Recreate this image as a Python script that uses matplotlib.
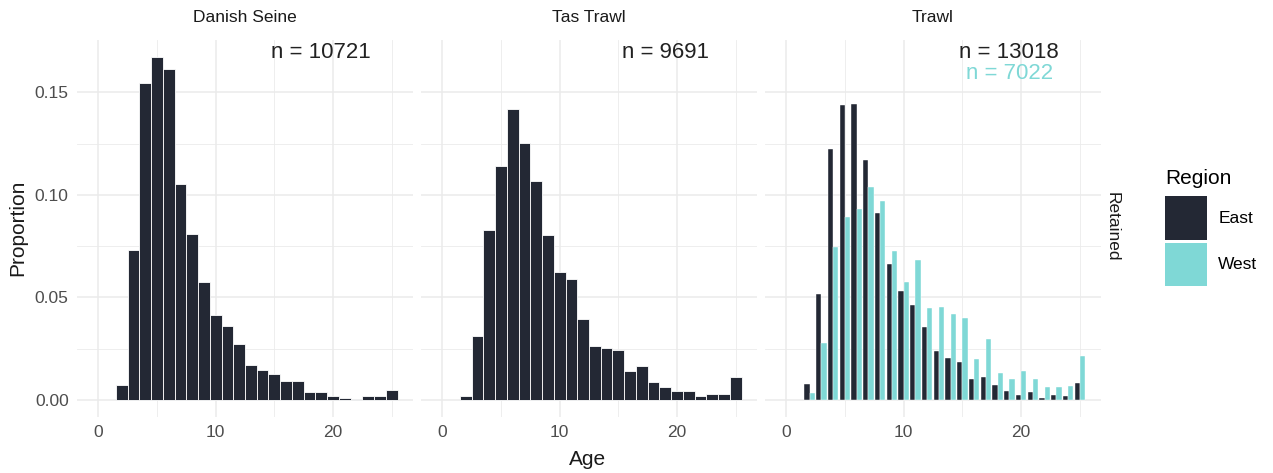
import matplotlib
matplotlib.use("Agg")
import matplotlib.pyplot as plt
from matplotlib.patches import Patch

plt.rcParams['font.family'] = ['Liberation Sans', 'DejaVu Sans']

AGES = list(range(2, 26))

# proportion of retained fish at each age, by gear
DANISH_SEINE = [0.0073, 0.0733, 0.1544, 0.1670, 0.1615, 0.1051, 0.0808, 0.0573,
                0.0415, 0.0362, 0.0274, 0.0172, 0.0146, 0.0126, 0.0094, 0.0094,
                0.0037, 0.0037, 0.0019, 0.0011, 0.0006, 0.0018, 0.0018, 0.0047]
TAS_TRAWL = [0.0019, 0.0311, 0.0830, 0.1138, 0.1417, 0.1254, 0.1069, 0.0806,
             0.0624, 0.0590, 0.0394, 0.0261, 0.0253, 0.0243, 0.0141, 0.0164,
             0.0088, 0.0063, 0.0045, 0.0045, 0.0019, 0.0026, 0.0026, 0.0110]
TRAWL_EAST = [0.0078, 0.0514, 0.1221, 0.1440, 0.1443, 0.1171, 0.0910, 0.0660,
              0.0530, 0.0464, 0.0357, 0.0237, 0.0203, 0.0182, 0.0099, 0.0109,
              0.0071, 0.0041, 0.0024, 0.0037, 0.0008, 0.0021, 0.0019, 0.0084]
TRAWL_WEST = [0.0032, 0.0277, 0.0744, 0.0892, 0.0933, 0.1040, 0.0968, 0.0727,
              0.0574, 0.0680, 0.0446, 0.0451, 0.0418, 0.0401, 0.0199, 0.0298,
              0.0133, 0.0101, 0.0141, 0.0101, 0.0060, 0.0060, 0.0066, 0.0212]

GEARS = ['Danish Seine', 'Tas Trawl', 'Trawl']
N_EAST = [10721, 9691, 13018]
N_WEST = 7022
REGIONS = ['East', 'West']

EAST_COL = '#232834'
WEST_COL = '#7fd8d6'
GRID_COL = '#ebebeb'
TEXT_COL = '#4d4d4d'

W, H = 1273, 473
fig = plt.figure(figsize=(W / 100, H / 100), dpi=100)

panel_left = [77, 421, 765]
panel_w = 336
bottom = 1 - 417 / H
height = (417 - 40) / H


def style_panel(ax, show_y):
    ax.set_xlim(-1.8, 26.8)
    ax.set_ylim(-0.0084, 0.1755)
    ax.set_xticks([0, 10, 20])
    ax.set_xticks([5, 15, 25], minor=True)
    ax.set_yticks([0, 0.05, 0.10, 0.15])
    ax.set_yticks([0.025, 0.075, 0.125], minor=True)
    ax.set_yticklabels(['0.00', '0.05', '0.10', '0.15'] if show_y else [])
    ax.grid(True, which='major', color=GRID_COL, linewidth=1.1)
    ax.grid(True, which='minor', color=GRID_COL, linewidth=0.6)
    ax.set_axisbelow(True)
    for s in ax.spines.values():
        s.set_visible(False)
    ax.tick_params(which='both', length=0, labelsize=12.5, labelcolor=TEXT_COL, pad=6)


axes = []
for i, gear in enumerate(GEARS):
    ax = fig.add_axes([panel_left[i] / W, bottom, panel_w / W, height])
    style_panel(ax, i == 0)
    axes.append(ax)

    if gear == 'Trawl':
        ax.bar([a - 0.225 for a in AGES], TRAWL_EAST, width=0.45,
               color=EAST_COL, edgecolor='white', linewidth=0.3)
        ax.bar([a + 0.225 for a in AGES], TRAWL_WEST, width=0.45,
               color=WEST_COL, edgecolor='white', linewidth=0.3)
        ax.text(19, 0.1694, f'n = {N_EAST[i]}', ha='center', va='center',
                fontsize=16, color='#222222')
        ax.text(19, 0.1592, f'n = {N_WEST}', ha='center', va='center',
                fontsize=16, color=WEST_COL)
    else:
        vals = DANISH_SEINE if gear == 'Danish Seine' else TAS_TRAWL
        ax.bar(AGES, vals, width=1.0, color=EAST_COL, edgecolor='white', linewidth=0.6)
        ax.text(19, 0.1694, f'n = {N_EAST[i]}', ha='center', va='center',
                fontsize=16, color='#222222')

    # strip label on top of each facet
    fig.text((panel_left[i] + panel_w / 2) / W, 1 - 17 / H, gear,
             ha='center', va='center', fontsize=12.5, color='#1a1a1a')

# row strip on the right
fig.text(1112 / W, 1 - 227 / H, 'Retained', rotation=-90, ha='center', va='center',
         fontsize=12.5, color='#1a1a1a')

fig.text(18 / W, 1 - 228 / H, 'Proportion', rotation=90, ha='center', va='center',
         fontsize=15, color='#1a1a1a')
fig.text(588 / W, 1 - 459 / H, 'Age', ha='center', va='center',
         fontsize=15, color='#1a1a1a')

handles = [Patch(facecolor=EAST_COL, edgecolor='none'),
           Patch(facecolor=WEST_COL, edgecolor='none')]
leg = fig.legend(handles, REGIONS, title='Region', loc='upper left',
                 bbox_to_anchor=(1158 / W, 1 - 162 / H), frameon=False,
                 fontsize=12.5, title_fontsize=15, handlelength=2.42, handleheight=3.5,
                 handletextpad=0.65, labelspacing=0.15, borderaxespad=0)
leg._legend_box.align = 'left'
leg._legend_box.sep = 6

fig.savefig('out.png', dpi=100)
